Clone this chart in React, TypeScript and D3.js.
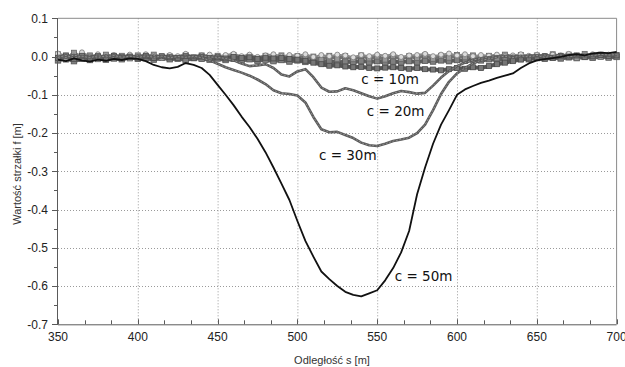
import React, { useEffect, useRef } from 'react';
import * as d3 from 'd3';

// distance samples every 5 m, 350..700
const distances = d3.range(350, 701, 5);

const c50 = [
  -0.008, -0.012, -0.005, -0.010, -0.013, -0.008, -0.011, -0.006, -0.009, -0.005,
  -0.006, -0.012, -0.022, -0.028, -0.031, -0.027, -0.017, -0.022, -0.030, -0.048,
  -0.074, -0.100, -0.127, -0.157, -0.184, -0.215, -0.250, -0.290, -0.332, -0.375,
  -0.430, -0.482, -0.523, -0.562, -0.582, -0.600, -0.615, -0.623, -0.627, -0.619,
  -0.611, -0.585, -0.553, -0.512, -0.456, -0.360, -0.290, -0.228, -0.178, -0.140,
  -0.100, -0.086, -0.077, -0.069, -0.063, -0.056, -0.050, -0.044, -0.030, -0.018,
  -0.010, -0.007, -0.004, -0.001, 0.004, 0.006, 0.003, 0.008, 0.010, 0.009,
  0.012,
];

const c30 = [
  -0.002, 0.003, -0.004, 0.001, -0.003, 0.002, -0.001, 0.003, -0.002, 0.001,
  -0.003, 0.002, -0.002, 0.001, -0.003, 0.000, -0.002, 0.001, -0.003, -0.010,
  -0.019, -0.028, -0.035, -0.042, -0.050, -0.060, -0.072, -0.088, -0.096, -0.098,
  -0.102, -0.120, -0.158, -0.190, -0.198, -0.197, -0.205, -0.213, -0.225, -0.232,
  -0.234, -0.228, -0.221, -0.217, -0.212, -0.200, -0.178, -0.140, -0.098, -0.066,
  -0.044, -0.030, -0.018, -0.010, -0.006, -0.002, 0.001, -0.003, 0.002, -0.001,
  0.003, -0.002, 0.001, 0.004, -0.001, 0.003, 0.005, 0.002, 0.006, 0.004,
  0.005,
];

const c20 = [
  0.002, -0.003, 0.004, -0.001, 0.002, -0.004, 0.003, -0.002, 0.001, -0.003,
  0.002, -0.001, 0.003, -0.004, 0.002, -0.002, 0.001, -0.003, 0.002, -0.001,
  -0.002, -0.005, -0.010, -0.018, -0.025, -0.023, -0.020, -0.030, -0.047, -0.052,
  -0.039, -0.033, -0.054, -0.081, -0.092, -0.091, -0.083, -0.088, -0.096, -0.104,
  -0.110, -0.104, -0.096, -0.090, -0.093, -0.097, -0.095, -0.076, -0.055, -0.038,
  -0.025, -0.016, -0.009, -0.005, -0.002, 0.001, -0.002, 0.002, -0.001, 0.003,
  0.001, 0.004, -0.001, 0.003, 0.002, 0.005, 0.001, 0.004, 0.006, 0.003,
  0.004,
];

const c10 = [
  -0.004, 0.003, -0.006, 0.002, -0.003, 0.001, -0.005, 0.002, -0.002, 0.000,
  -0.003, 0.002, -0.004, 0.001, -0.002, -0.004, 0.001, -0.003, 0.000, -0.004,
  -0.002, -0.005, -0.001, -0.004, -0.002, -0.006, -0.003, -0.005, -0.004, -0.006,
  -0.008, -0.011, -0.016, -0.020, -0.024, -0.023, -0.026, -0.028, -0.027, -0.030,
  -0.031, -0.029, -0.028, -0.030, -0.032, -0.030, -0.033, -0.034, -0.036, -0.033,
  -0.030, -0.032, -0.028, -0.030, -0.025, -0.020, -0.016, -0.012, -0.008, -0.005,
  -0.002, 0.001, -0.003, 0.002, 0.000, 0.003, -0.001, 0.002, 0.004, 0.001,
  0.003,
];

const c5 = [
  -0.010, -0.004, -0.012, -0.006, -0.009, -0.003, -0.008, -0.005, -0.007, -0.002,
  -0.006, -0.004, -0.008, -0.003, -0.007, -0.005, -0.009, -0.004, -0.006, -0.008,
  -0.005, -0.009, -0.006, -0.010, -0.007, -0.011, -0.008, -0.012, -0.009, -0.013,
  -0.010, -0.014, -0.011, -0.015, -0.012, -0.016, -0.013, -0.015, -0.011, -0.014,
  -0.012, -0.016, -0.013, -0.015, -0.012, -0.014, -0.011, -0.013, -0.010, -0.012,
  -0.009, -0.011, -0.008, -0.010, -0.007, -0.009, -0.006, -0.008, -0.005, -0.007,
  -0.004, -0.006, -0.003, -0.005, -0.002, -0.004, -0.001, -0.003, 0.000, -0.002,
  -0.001,
];

const c2 = [
  0.006, -0.008, 0.010, -0.004, 0.003, -0.007, 0.005, -0.002, 0.002, -0.005,
  0.003, -0.002, 0.005, -0.004, 0.001, -0.006, 0.004, -0.002, 0.003, -0.005,
  0.002, -0.003, 0.004, -0.004, 0.000, -0.007, 0.002, -0.003, 0.003, -0.006,
  0.001, -0.005, 0.000, -0.009, 0.002, -0.006, 0.001, -0.007, 0.003, -0.005,
  0.000, -0.008, 0.002, -0.006, 0.001, -0.004, 0.003, -0.006, 0.002, -0.003,
  0.004, -0.002, 0.003, -0.005, 0.002, -0.003, 0.005, -0.002, 0.004, -0.004,
  0.003, -0.003, 0.006, -0.002, 0.005, -0.004, 0.007, -0.002, 0.005, -0.003,
  0.004,
];

const c1 = [
  0.008, 0.002, -0.004, 0.011, 0.001, 0.006, -0.003, 0.004, 0.000, 0.005,
  -0.001, 0.006, 0.002, -0.003, 0.004, 0.001, 0.007, -0.002, 0.003, 0.005,
  0.000, 0.004, 0.007, 0.001, 0.005, -0.001, 0.003, 0.006, 0.000, 0.004,
  0.002, 0.006, -0.001, 0.004, 0.001, 0.005, 0.003, -0.002, 0.004, 0.001,
  0.005, 0.002, 0.006, -0.001, 0.003, 0.004, 0.007, 0.001, 0.005, 0.008,
  0.003, 0.006, 0.001, 0.004, 0.002, 0.005, 0.000, 0.003, 0.006, 0.002,
  0.004, 0.001, 0.005, 0.003, 0.007, 0.002, 0.004, 0.006, 0.001, 0.005,
  0.003,
];

const xTicks = [350, 400, 450, 500, 550, 600, 650, 700];
const yTicks = [0.1, 0.0, -0.1, -0.2, -0.3, -0.4, -0.5, -0.6, -0.7];
const yTickLabels = ['0.1', '0.0', '-0.1', '-0.2', '-0.3', '-0.4', '-0.5', '-0.6', '-0.7'];

const curveLabels = [
  { text: 'c = 10m', x: 540, y: -0.071 },
  { text: 'c = 20m', x: 543.5, y: -0.155 },
  { text: 'c = 30m', x: 513.5, y: -0.27 },
  { text: 'c = 50m', x: 561, y: -0.587 },
];

const W = 625;
const H = 367;

export default function App() {
  const svgRef = useRef<SVGSVGElement>(null);

  useEffect(() => {
    if (!svgRef.current) return;
    const svg = d3.select(svgRef.current);
    svg.selectAll('*').remove();

    const x = d3.scaleLinear().domain([350, 700]).range([58, 616.6]);
    const y = d3.scaleLinear().domain([-0.7, 0.1]).range([324.3, 18.3]);
    const [x0, x1] = x.range();
    const [y0, y1] = y.range();

    svg.append('rect').attr('width', W).attr('height', H).attr('fill', '#fff');

    // grid
    const grid = svg.append('g').attr('stroke', '#9a9a9a').attr('stroke-width', 1).attr('stroke-dasharray', '1,2');
    xTicks.slice(1, -1).forEach((t) => {
      grid.append('line').attr('x1', x(t) + 0.5).attr('x2', x(t) + 0.5).attr('y1', y1).attr('y2', y0);
    });
    yTicks.slice(1, -1).forEach((t) => {
      grid.append('line').attr('x1', x0).attr('x2', x1).attr('y1', Math.round(y(t)) + 0.5).attr('y2', Math.round(y(t)) + 0.5);
    });

    // frame
    svg.append('line').attr('x1', x0).attr('x2', x1).attr('y1', y1).attr('y2', y1).attr('stroke', '#8a8a8a');
    svg.append('line').attr('x1', x1).attr('x2', x1).attr('y1', y1).attr('y2', y0).attr('stroke', '#8a8a8a');

    const line = d3.line<number>()
      .x((_, i) => x(distances[i]))
      .y((d) => y(d));

    const plot = svg.append('g');

    const drawMarkers = (vals: number[], shape: 'square' | 'circle', stroke: string, fill: string, size: number) => {
      const g = plot.append('g');
      vals.forEach((v, i) => {
        const cx = x(distances[i]);
        const cy = y(v);
        if (shape === 'square') {
          g.append('rect').attr('x', cx - size / 2).attr('y', cy - size / 2).attr('width', size).attr('height', size)
            .attr('fill', fill).attr('stroke', stroke).attr('stroke-width', 0.8);
        } else {
          g.append('circle').attr('cx', cx).attr('cy', cy).attr('r', size / 2)
            .attr('fill', fill).attr('stroke', stroke).attr('stroke-width', 0.8);
        }
      });
    };

    // near-zero bands
    plot.append('path').attr('d', line(c5)).attr('fill', 'none').attr('stroke', '#5e5e5e').attr('stroke-width', 4);
    drawMarkers(c5, 'square', '#555', '#808080', 5.5);
    plot.append('path').attr('d', line(c2)).attr('fill', 'none').attr('stroke', '#707070').attr('stroke-width', 3.5);
    drawMarkers(c2, 'square', '#666', '#999', 5);
    plot.append('path').attr('d', line(c1)).attr('fill', 'none').attr('stroke', '#8a8a8a').attr('stroke-width', 2);
    drawMarkers(c1, 'circle', '#7a7a7a', '#dcdcdc', 5);

    // c = 10m
    plot.append('path').attr('d', line(c10)).attr('fill', 'none').attr('stroke', '#555').attr('stroke-width', 4);
    drawMarkers(c10, 'square', '#4a4a4a', '#777', 5);

    // c = 20m, c = 30m
    [c20, c30].forEach((vals) => {
      plot.append('path').attr('d', line(vals)).attr('fill', 'none').attr('stroke', '#5a5a5a').attr('stroke-width', 2.6)
        .attr('stroke-linejoin', 'round');
      plot.append('path').attr('d', line(vals)).attr('fill', 'none').attr('stroke', '#9c9c9c').attr('stroke-width', 0.8)
        .attr('stroke-dasharray', '2,1.5');
    });

    // c = 50m
    plot.append('path').attr('d', line(c50)).attr('fill', 'none').attr('stroke', '#111').attr('stroke-width', 1.8)
      .attr('stroke-linejoin', 'round');

    // axes
    const ax = svg.append('g').attr('stroke', '#5a5a5a').attr('stroke-width', 1);
    ax.append('line').attr('x1', x0 - 0.5).attr('x2', x0 - 0.5).attr('y1', y1).attr('y2', y0);
    ax.append('line').attr('x1', x0).attr('x2', x1).attr('y1', y0 + 0.5).attr('y2', y0 + 0.5);

    yTicks.forEach((t) => {
      const yy = Math.round(y(t)) + 0.5;
      ax.append('line').attr('x1', x0 - 6).attr('x2', x0).attr('y1', yy).attr('y2', yy);
      if (t > -0.7) {
        const ym = Math.round(y(t - 0.05)) + 0.5;
        ax.append('line').attr('x1', x0 - 4).attr('x2', x0).attr('y1', ym).attr('y2', ym);
      }
    });
    xTicks.forEach((t, i) => {
      const xx = Math.round(x(t)) + 0.5;
      ax.append('line').attr('x1', xx).attr('x2', xx).attr('y1', y0).attr('y2', y0 - 5);
      if (i < xTicks.length - 1) {
        [50 / 3, 100 / 3].forEach((o) => {
          const xm = Math.round(x(t + o)) + 0.5;
          ax.append('line').attr('x1', xm).attr('x2', xm).attr('y1', y0).attr('y2', y0 - 4);
        });
      }
    });

    const font = 'Liberation Sans, Arial, sans-serif';
    svg.append('g').selectAll('text').data(yTicks).enter().append('text')
      .attr('x', 48).attr('y', (d) => y(d)).attr('dy', '0.35em').attr('text-anchor', 'end')
      .attr('font-family', font).attr('font-size', 12).attr('fill', '#222')
      .text((_, i) => yTickLabels[i]);

    svg.append('g').selectAll('text').data(xTicks).enter().append('text')
      .attr('x', (d) => x(d)).attr('y', 341).attr('text-anchor', 'middle')
      .attr('font-family', font).attr('font-size', 12).attr('fill', '#222')
      .text((d) => String(d));

    svg.append('text').attr('x', 332).attr('y', 364).attr('text-anchor', 'middle')
      .attr('font-family', font).attr('font-size', 11).attr('fill', '#333')
      .text('Odległość s [m]');

    svg.append('text').attr('transform', 'translate(21,174) rotate(-90)').attr('text-anchor', 'middle')
      .attr('font-family', font).attr('font-size', 11).attr('fill', '#333')
      .text('Wartość strzałki f [m]');

    svg.append('g').selectAll('text').data(curveLabels).enter().append('text')
      .attr('x', (d) => x(d.x)).attr('y', (d) => y(d.y))
      .attr('font-family', 'DejaVu Sans, Verdana, sans-serif').attr('font-size', 13.5).attr('fill', '#111')
      .text((d) => d.text);
  }, []);

  return (
    <>
      <style>{'body{margin:0}'}</style>
      <svg ref={svgRef} width={W} height={H} style={{ display: 'block' }} />
    </>
  );
}
